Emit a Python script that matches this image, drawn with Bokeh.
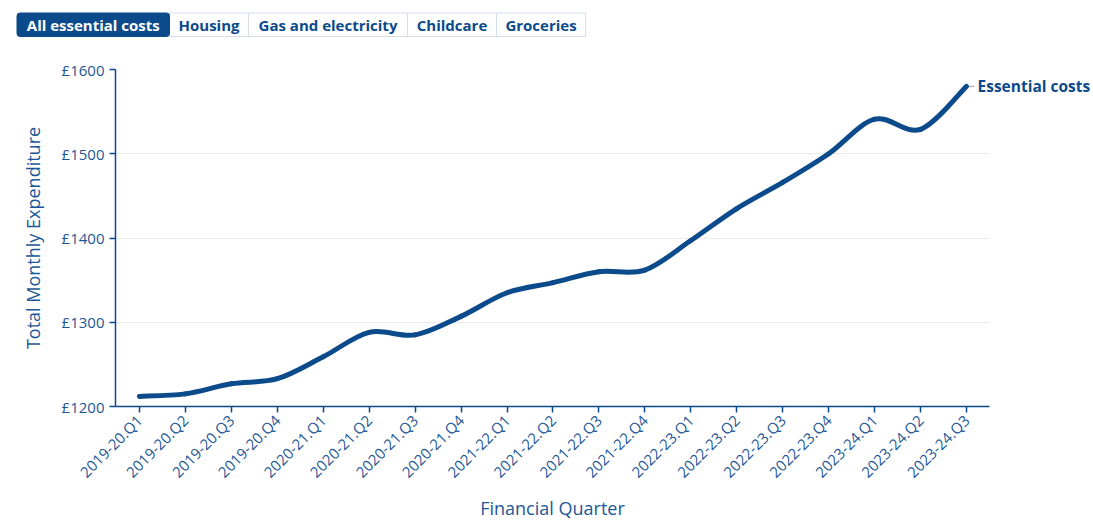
import math
from bokeh.plotting import figure
from bokeh.models import Range1d, FixedTicker, PrintfTickFormatter, LinearAxis
from bokeh.layouts import column
from bokeh.core.properties import value
from bokeh.embed import file_html
from bokeh.resources import INLINE

quarters = ["2019-20.Q1", "2019-20.Q2", "2019-20.Q3", "2019-20.Q4",
            "2020-21.Q1", "2020-21.Q2", "2020-21.Q3", "2020-21.Q4",
            "2021-22.Q1", "2021-22.Q2", "2021-22.Q3", "2021-22.Q4",
            "2022-23.Q1", "2022-23.Q2", "2022-23.Q3", "2022-23.Q4",
            "2023-24.Q1", "2023-24.Q2", "2023-24.Q3"]
essential_costs = [1212, 1215, 1227, 1233, 1259, 1288, 1285, 1307, 1335, 1347,
                   1360, 1362, 1397, 1435, 1466, 1500, 1541, 1529, 1580]
y_ticks = [1200, 1300, 1400, 1500, 1600]
buttons = ["All essential costs", "Housing", "Gas and electricity", "Childcare", "Groceries"]
series_name = "Essential costs"

FONT = "Open Sans"
LINE_C = "#0b4a8b"
TEXT_C = "#1d5796"

W = 1093
HDR_H = 50
H = 522 - HDR_H
L, R, T, B = 115, 103, 69 - HDR_H, 116
X0, X1 = -0.52, 18.5
Y0, Y1 = 1200, 1600

# ---------- header with buttons ----------
hdr = figure(width=W, height=HDR_H, output_backend="svg", toolbar_location=None,
             x_range=Range1d(0, W), y_range=Range1d(HDR_H, 0),
             x_axis_type=None, y_axis_type=None, min_border=0)
hdr.frame_align = False
hdr.outline_line_color = None
hdr.grid.visible = False
edges = [16.5, 169, 248, 407, 496, 585]
b_top, b_bot = 12.5, 36
lefts = edges[:-1]
rights = edges[1:]
fills = [LINE_C] + ["white"] * (len(buttons) - 1)
tcols = ["white"] + [LINE_C] * (len(buttons) - 1)
lcols = [LINE_C] + ["#d3dfec"] * (len(buttons) - 1)
hdr.quad(left=lefts[1:], right=rights[1:], top=[b_top] * (len(buttons) - 1),
         bottom=[b_bot] * (len(buttons) - 1), fill_color=fills[1:], line_color=lcols[1:], line_width=1)
hdr.quad(left=lefts[:1], right=rights[:1], top=[b_top], bottom=[b_bot],
         fill_color=fills[:1], line_color=lcols[:1], line_width=1, border_radius=3)
hdr.text(x=[(a + b) / 2 for a, b in zip(lefts, rights)], y=[(b_top + b_bot) / 2 + 0.5] * len(buttons),
         text=buttons, text_color=tcols, text_font=value(FONT), text_font_size="15px",
         text_font_style="bold", text_align="center", text_baseline="middle")

# ---------- main chart ----------
p = figure(width=W, height=H, output_backend="svg", toolbar_location=None,
           x_range=Range1d(X0, X1), y_range=Range1d(Y0, Y1),
           min_border_left=L, min_border_right=R, min_border_top=T, min_border_bottom=B)
p.frame_align = False
p.outline_line_color = None
p.xgrid.grid_line_color = None
p.ygrid.grid_line_color = "#ebebeb"
p.ygrid.grid_line_width = 1

xs = list(range(len(quarters)))

# spline through data points (Catmull-Rom as cubic Bezier segments)
def ext(i):
    i = max(0, min(len(xs) - 1, i))
    return xs[i], essential_costs[i]

bx0, by0, bx1, by1, c0x, c0y, c1x, c1y = [], [], [], [], [], [], [], []
for i in range(len(xs) - 1):
    p0 = ext(i - 1); p1 = ext(i); p2 = ext(i + 1); p3 = ext(i + 2)
    bx0.append(p1[0]); by0.append(p1[1]); bx1.append(p2[0]); by1.append(p2[1])
    c0x.append(p1[0] + (p2[0] - p0[0]) / 6.0); c0y.append(p1[1] + (p2[1] - p0[1]) / 6.0)
    c1x.append(p2[0] - (p3[0] - p1[0]) / 6.0); c1y.append(p2[1] - (p3[1] - p1[1]) / 6.0)

p.bezier(x0=bx0, y0=by0, x1=bx1, y1=by1, cx0=c0x, cy0=c0y, cx1=c1x, cy1=c1y,
         line_color=LINE_C, line_width=5, line_cap="round")

# end label connector
p.segment(x0=[xs[-1] + 0.06], y0=[essential_costs[-1]], x1=[xs[-1] + 0.17], y1=[essential_costs[-1]],
          line_color="#999999", line_width=1)

# end label drawn as a right-side axis label
lab_axis = LinearAxis(ticker=FixedTicker(ticks=[essential_costs[-1]]),
                      major_label_overrides={essential_costs[-1]: series_name})
lab_axis.axis_line_color = None
lab_axis.major_tick_line_color = None
lab_axis.minor_tick_line_color = None
lab_axis.major_tick_out = 0
lab_axis.major_tick_in = 0
lab_axis.major_label_standoff = -12
lab_axis.major_label_text_font = FONT
lab_axis.major_label_text_font_size = "15.5px"
lab_axis.major_label_text_font_style = "bold"
lab_axis.major_label_text_color = LINE_C
p.add_layout(lab_axis, "right")

# axes
for ax in (p.xaxis[0], p.yaxis[0]):
    ax.axis_line_color = LINE_C
    ax.axis_line_width = 1.5
    ax.major_tick_line_color = LINE_C
    ax.major_tick_line_width = 1.5
    ax.major_tick_out = 6
    ax.major_tick_in = 0
    ax.minor_tick_line_color = None
    ax.major_label_text_font = FONT
    ax.major_label_text_color = TEXT_C
    ax.axis_label_text_font = FONT
    ax.axis_label_text_font_size = "18px"
    ax.axis_label_text_font_style = "normal"
    ax.axis_label_text_color = TEXT_C

p.xaxis[0].ticker = FixedTicker(ticks=xs)
p.xaxis[0].major_label_overrides = {i: q for i, q in enumerate(quarters)}
p.xaxis[0].major_label_orientation = math.pi / 4
p.xaxis[0].major_label_text_font_size = "15px"
p.xaxis[0].axis_label = "Financial Quarter"
p.xaxis[0].axis_label_standoff = 4

p.yaxis[0].ticker = FixedTicker(ticks=y_ticks)
p.yaxis[0].formatter = PrintfTickFormatter(format="£%d")
p.yaxis[0].major_label_text_font_size = "15px"
p.yaxis[0].axis_label = "Total Monthly Expenditure"
p.yaxis[0].axis_label_standoff = 14
p.yaxis[0].major_label_standoff = 5

layout = column(hdr, p, spacing=0)
open("out.html", "w").write(file_html(layout, INLINE))
